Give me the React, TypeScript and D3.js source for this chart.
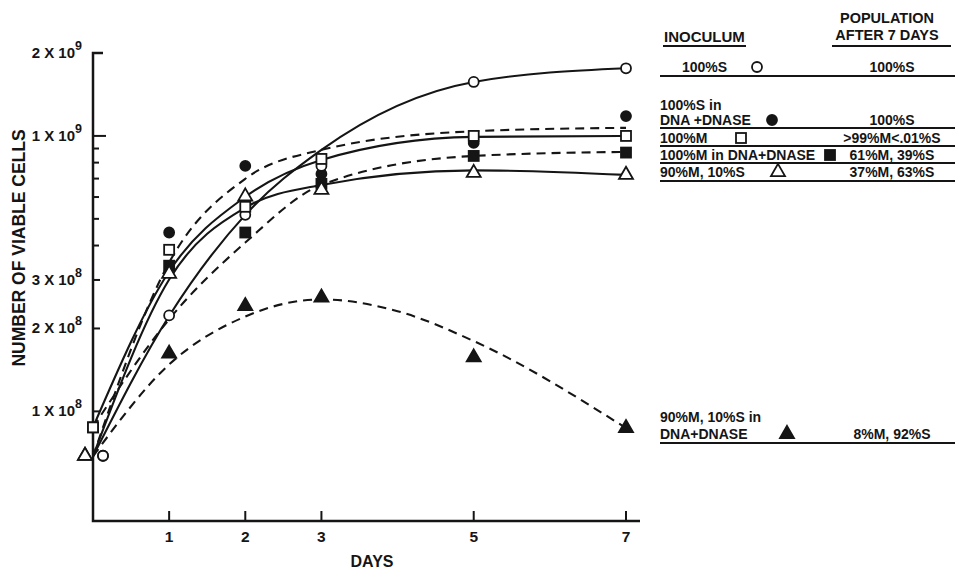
import * as d3 from "d3";
import { useEffect, useRef } from "react";

// days of sampling
const days = [0, 1, 2, 3, 5, 7];

// measured points (viable cells)
const openCircle = [6.9e7, 2.23e8, 5.17e8, 7.78e8, 1.57e9, 1.76e9];
const filledCircle = [6.9e7, 4.46e8, 7.78e8, 7.28e8, 9.43e8, 1.18e9];
const openSquare = [8.75e7, 3.86e8, 5.53e8, 8.25e8, 1.0e9, 1.0e9];
const filledSquare = [8.75e7, 3.38e8, 4.46e8, 6.7e8, 8.46e8, 8.7e8];
const openTriangle = [6.9e7, 3.16e8, 6.03e8, 6.37e8, 7.34e8, 7.22e8];
const filledTriangle = [6.9e7, 1.62e8, 2.41e8, 2.59e8, 1.57e8, 8.7e7];

// hand drawn curves through the points
const fitDays = [0, 1, 2, 3, 5, 7];
const fitDaysPeak = [0, 1, 2, 3, 4, 5, 7];
const openCircleFit = [6.87e7, 2.22e8, 5.17e8, 8.9e8, 1.57e9, 1.76e9];
const filledCircleFit = [6.87e7, 3.47e8, 6.99e8, 8.9e8, 1.04e9, 1.07e9];
const openSquareFit = [8.75e7, 3.22e8, 6.01e8, 8.18e8, 9.92e8, 1.0e9];
const filledSquareFit = [8.75e7, 2.16e8, 4.1e8, 6.64e8, 8.46e8, 8.75e8];
const openTriangleFit = [6.87e7, 3.01e8, 5.49e8, 6.64e8, 7.5e8, 7.22e8];
const filledTriangleFit = [6.87e7, 1.48e8, 2.21e8, 2.55e8, 2.31e8, 1.8e8, 8.7e7];

// axes
const xTicks = [1, 2, 3, 5, 7];
const yTicks = [2e9, 1e9, 3e8, 2e8, 1e8];
const yTickBase = ["2 X 10", "1 X 10", "3 X 10", "2 X 10", "1 X 10"];
const yTickExp = ["9", "9", "8", "8", "8"];
const yMinorTicks = [9e8, 8e8, 7e8, 6e8, 5e8, 4e8];

// legend text
const inoculum = [
  ["100%S"],
  ["100%S in", "DNA +DNASE"],
  ["100%M"],
  ["100%M in DNA+DNASE"],
  ["90%M, 10%S"],
  ["90%M, 10%S in", "DNA+DNASE"],
];
const population = ["100%S", "100%S", ">99%M<.01%S", "61%M, 39%S", "37%M, 63%S", "8%M, 92%S"];

const series = [
  { values: openCircle, fit: openCircleFit, fitX: fitDays, shape: "circle", filled: false, dashed: false },
  { values: filledCircle, fit: filledCircleFit, fitX: fitDays, shape: "circle", filled: true, dashed: true },
  { values: openSquare, fit: openSquareFit, fitX: fitDays, shape: "square", filled: false, dashed: false },
  { values: filledSquare, fit: filledSquareFit, fitX: fitDays, shape: "square", filled: true, dashed: true },
  { values: openTriangle, fit: openTriangleFit, fitX: fitDays, shape: "triangle", filled: false, dashed: false },
  { values: filledTriangle, fit: filledTriangleFit, fitX: fitDaysPeak, shape: "triangle", filled: true, dashed: true },
];

// legend layout (style only)
const legendLayout = [
  { tx: 682, ty: [72], mx: 757, my: 67, py: 72, ly: 76 },
  { tx: 660, ty: [110, 125], mx: 772, my: 120, py: 125, ly: 128 },
  { tx: 660, ty: [143], mx: 741, my: 138, py: 143, ly: 146 },
  { tx: 660, ty: [160], mx: 830, my: 155, py: 160, ly: 163 },
  { tx: 660, ty: [177], mx: 778, my: 172, py: 177, ly: 181 },
  { tx: 660, ty: [422, 439], mx: 787, my: 434, py: 439, ly: 443 },
];
const day0Offset: Record<string, number> = { circle: 10, square: 0, triangle: -8 };

const INK = "#151515";
const FONT = "'Liberation Sans', Arial, sans-serif";

function marker(g: any, shape: string, filled: boolean, cx: number, cy: number) {
  const fill = filled ? INK : "#fff";
  if (shape === "circle") {
    g.append("circle").attr("cx", cx).attr("cy", cy).attr("r", 5)
      .attr("fill", fill).attr("stroke", INK).attr("stroke-width", 1.8);
  } else if (shape === "square") {
    g.append("rect").attr("x", cx - 5).attr("y", cy - 5).attr("width", 10).attr("height", 10)
      .attr("fill", fill).attr("stroke", INK).attr("stroke-width", 1.8);
  } else {
    g.append("path").attr("d", d3.symbol(d3.symbolTriangle, 85)())
      .attr("transform", `translate(${cx},${cy})`)
      .attr("fill", fill).attr("stroke", INK).attr("stroke-width", 1.8)
      .attr("stroke-linejoin", "miter");
  }
}

const App = () => {
  const ref = useRef<SVGSVGElement>(null);

  useEffect(() => {
    document.body.style.margin = "0";
    const svg = d3.select(ref.current);
    svg.selectAll("*").remove();

    const x = d3.scaleLinear().domain([0, 7]).range([93, 626]);
    const y = d3.scaleLog().domain([4e7, 2e9]).range([521, 53]);
    const x0 = x(0), yB = y(4e7);

    const axes = svg.append("g").attr("stroke", INK).attr("fill", "none");
    axes.append("path")
      .attr("d", `M${x0 + 10},${y(2e9)}H${x0}V${yB}H640`)
      .attr("stroke-width", 2.5);
    axes.selectAll(".yt").data(yTicks).join("line")
      .attr("x1", x0).attr("x2", (d) => x0 + (d === 1e9 ? 13 : d === 2e9 ? 10 : 7))
      .attr("y1", (d) => y(d)).attr("y2", (d) => y(d)).attr("stroke-width", 2);
    axes.selectAll(".ym").data(yMinorTicks).join("line")
      .attr("x1", x0).attr("x2", x0 + 6)
      .attr("y1", (d) => y(d)).attr("y2", (d) => y(d)).attr("stroke-width", 2);
    axes.selectAll(".xt").data(xTicks).join("line")
      .attr("x1", (d) => x(d)).attr("x2", (d) => x(d))
      .attr("y1", yB).attr("y2", yB - 10).attr("stroke-width", 2);

    const txt = svg.append("g").attr("fill", INK).attr("font-family", FONT).attr("font-weight", "bold");
    txt.selectAll(".xl").data(xTicks).join("text")
      .attr("x", (d) => x(d)).attr("y", 542).attr("text-anchor", "middle")
      .attr("font-size", 15.5).text((d) => d);
    txt.append("text").attr("x", 372).attr("y", 567).attr("text-anchor", "middle")
      .attr("font-size", 16).text("DAYS");
    txt.append("text").attr("transform", "translate(25,248) rotate(-90)")
      .attr("text-anchor", "middle").attr("font-size", 17.5).text("NUMBER OF VIABLE CELLS");
    yTicks.forEach((v, i) => {
      const t = txt.append("text").attr("x", 82).attr("y", y(v) + 5)
        .attr("text-anchor", "end").attr("font-size", 15);
      t.append("tspan").text(yTickBase[i]);
      t.append("tspan").attr("font-size", 12.5).attr("dy", -8).text(yTickExp[i]);
    });

    const line = d3.line<[number, number]>()
      .x((d) => x(d[0])).y((d) => y(d[1])).curve(d3.curveMonotoneX);
    const curves = svg.append("g").attr("fill", "none").attr("stroke", INK).attr("stroke-width", 2.1);
    series.forEach((s) => {
      curves.append("path")
        .attr("d", line(s.fitX.map((d, i) => [d, s.fit[i]] as [number, number])))
        .attr("stroke-dasharray", s.dashed ? "9,6" : null);
    });

    // filled markers first so the open ones stay visible where they overlap
    const marks = svg.append("g");
    [...series.filter((s) => s.filled), ...series.filter((s) => !s.filled)].forEach((s) => {
      s.values.forEach((v, i) => {
        const dx = days[i] === 0 ? day0Offset[s.shape] : 0;
        marker(marks, s.shape, s.filled, x(days[i]) + dx, y(v));
      });
    });

    // legend
    const leg = svg.append("g");
    const lt = leg.append("g").attr("fill", INK).attr("font-family", FONT).attr("font-weight", "bold").attr("font-size", 14);
    lt.append("text").attr("x", 664).attr("y", 42).attr("font-size", 15).text("INOCULUM");
    lt.append("text").attr("x", 887).attr("y", 23).attr("text-anchor", "middle").attr("font-size", 14.5).text("POPULATION");
    lt.append("text").attr("x", 887).attr("y", 40).attr("text-anchor", "middle").attr("font-size", 14.5).text("AFTER 7 DAYS");
    const ll = leg.append("g").attr("stroke", INK).attr("stroke-width", 2);
    ll.append("line").attr("x1", 663).attr("x2", 746).attr("y1", 46).attr("y2", 46);
    ll.append("line").attr("x1", 832).attr("x2", 951).attr("y1", 46).attr("y2", 46);
    legendLayout.forEach((L, i) => {
      inoculum[i].forEach((s, k) => {
        lt.append("text").attr("x", L.tx).attr("y", L.ty[k]).text(s);
      });
      lt.append("text").attr("x", 892).attr("y", L.py).attr("text-anchor", "middle").text(population[i]);
      ll.append("line").attr("x1", 660).attr("x2", 955).attr("y1", L.ly).attr("y2", L.ly);
      const s = series[i];
      marker(leg, s.shape, s.filled, L.mx, L.my);
    });
  }, []);

  return (
    <div>
      <svg ref={ref} width={961} height={570} style={{ display: "block", background: "#fff" }}></svg>
    </div>
  );
};

export default App;
